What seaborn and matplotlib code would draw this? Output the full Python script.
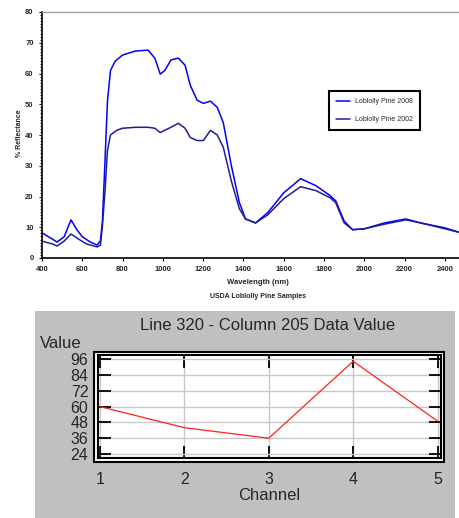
import numpy as np
import pandas as pd
import matplotlib
matplotlib.use('Agg')
import matplotlib.pyplot as plt
import matplotlib.patches as mpatches
from matplotlib.ticker import MultipleLocator
import seaborn as sns

# Spectra (wavelength nm, % reflectance)
wl_a = [400, 450, 475, 510, 544, 570, 600, 640, 674, 690, 700, 713, 725, 740, 763, 800,
        863, 927, 960, 987, 1010, 1040, 1077, 1110, 1136, 1170, 1201, 1236, 1270, 1300,
        1340, 1380, 1410, 1460, 1520, 1600, 1684, 1760, 1830, 1858, 1900, 1942, 2000,
        2100, 2206, 2280, 2400, 2480]
refl_a = [8.2, 6.2, 5.2, 6.9, 12.4, 9.5, 6.9, 5.2, 4.2, 5.6, 12, 32, 51, 61, 64, 66,
          67.3, 67.6, 65, 59.8, 61, 64.4, 65, 62.7, 56.2, 51.3, 50.3, 51, 49, 44,
          30, 18, 12.7, 11.4, 14.7, 21.2, 25.8, 23.5, 20.3, 18.6, 12, 9.2, 9.5,
          11.4, 12.7, 11.4, 9.8, 8.2]

wl_b = [400, 450, 475, 510, 544, 580, 620, 674, 690, 700, 713, 725, 740, 770, 800,
        863, 927, 960, 987, 1040, 1077, 1110, 1136, 1170, 1201, 1236, 1270, 1300,
        1340, 1380, 1410, 1460, 1520, 1600, 1684, 1760, 1830, 1858, 1900, 1942, 2000,
        2100, 2206, 2280, 2400, 2480]
refl_b = [5.5, 4.6, 3.9, 5.5, 7.8, 6.2, 4.6, 3.6, 4.2, 10.5, 22, 35, 40, 41.5, 42.2,
          42.5, 42.5, 42.2, 40.8, 42.5, 43.8, 42.2, 39.2, 38.2, 38.2, 41.5, 40, 36,
          25, 16, 12.7, 11.4, 14, 19.3, 23.2, 21.9, 19.6, 18, 11.4, 9.2, 9.5,
          11, 12.4, 11.4, 9.5, 8.2]

legend_labels = ['Loblolly Pine 2008', 'Loblolly Pine 2002']
wl_ticks = [400, 600, 800, 1000, 1200, 1400, 1600, 1800, 2000, 2200, 2400]
refl_ticks = [0, 10, 20, 30, 40, 50, 60, 70, 80]

# Lower panel: one pixel across five channels
channels = [1, 2, 3, 4, 5]
values = [60, 44, 36, 94.5, 49]
value_ticks = [24, 36, 48, 60, 72, 84, 96]

sns.set_style('white')
plt.rcParams['font.family'] = ['Liberation Sans', 'DejaVu Sans']

W, H = 460, 518
fig = plt.figure(figsize=(W / 100, H / 100), dpi=100)

# ---- top spectral plot ----
ax1 = fig.add_axes([42 / W, 1 - 258 / H, 418 / W, 246 / H])
df = pd.concat([
    pd.DataFrame({'wl': wl_a, 'refl': refl_a, 'sample': legend_labels[0]}),
    pd.DataFrame({'wl': wl_b, 'refl': refl_b, 'sample': legend_labels[1]}),
])
sns.lineplot(data=df, x='wl', y='refl', hue='sample', estimator=None,
             palette=['#0000ff', '#1e1e96'], linewidth=1.1, ax=ax1)
ax1.set_xlim(400, 2475)
ax1.set_ylim(0, 80)
ax1.set_xticks(wl_ticks)
ax1.set_yticks(refl_ticks)
ax1.yaxis.set_minor_locator(MultipleLocator(1))
ax1.tick_params(axis='both', which='major', labelsize=5.5, length=2.5, width=0.8,
                color='black', direction='out', left=True, bottom=True)
ax1.tick_params(axis='y', which='minor', length=1.5, width=0.6, color='black', left=True)
for lab in ax1.get_xticklabels() + ax1.get_yticklabels():
    lab.set_fontweight('bold')
ax1.set_xlabel('')
ax1.set_ylabel('')
for s in ['left', 'bottom']:
    ax1.spines[s].set_color('black')
    ax1.spines[s].set_linewidth(1.2)
ax1.spines['top'].set_color('#a0a0a0')
ax1.spines['top'].set_linewidth(1.0)
ax1.spines['right'].set_visible(False)

leg = ax1.legend(loc='upper left', bbox_to_anchor=(329 / W, 1 - 91 / H),
                 bbox_transform=fig.transFigure, fontsize=5, frameon=True,
                 fancybox=False, framealpha=1, handlelength=2.0,
                 borderpad=1.0, labelspacing=1.6, borderaxespad=0)
leg.get_frame().set_edgecolor('black')
leg.get_frame().set_linewidth(1.5)

fig.text(20 / W, 1 - 133 / H, '% Reflectance', rotation=90, ha='center', va='center',
         fontsize=5, fontweight='bold')
fig.text(258 / W, 1 - 282 / H, 'Wavelength (nm)', ha='center', va='center',
         fontsize=5.5, fontweight='bold')
fig.text(258 / W, 1 - 296 / H, 'USDA Loblolly Pine Samples', ha='center', va='center',
         fontsize=5, fontweight='bold')

# ---- lower panel ----
fig.add_artist(mpatches.Rectangle((35 / W, 0), 420 / W, 207 / H, transform=fig.transFigure,
                                  facecolor='#c0c0c0', edgecolor='none', zorder=0))
fig.add_artist(mpatches.Rectangle((94 / W, 1 - 461.5 / H), 350.5 / W, 110 / H,
                                  transform=fig.transFigure, facecolor='white',
                                  edgecolor='black', linewidth=1.5, zorder=1))

ax2 = fig.add_axes([98 / W, 1 - 458 / H, 343.5 / W, 103.5 / H], zorder=2)
ax2.set_facecolor('white')
sns.lineplot(x=channels, y=values, color='#ff2020', linewidth=0.9, ax=ax2)
ax2.set_xlim(0.976, 5.047)
ax2.set_ylim(20.96, 99.65)
ax2.set_xticks(channels)
ax2.set_yticks(value_ticks)
ax2.grid(True, color='#c8c8c8', linewidth=1.0)
ax2.set_axisbelow(True)
ax2.tick_params(axis='both', direction='in', length=9, width=1.3, color='black',
                top=True, right=True, left=True, bottom=True, labelsize=11.5)
ax2.tick_params(axis='y', pad=7)
ax2.tick_params(axis='x', pad=10)
for s in ax2.spines.values():
    s.set_color('black')
    s.set_linewidth(1.5)

fig.text(268 / W, 1 - 325 / H, 'Line 320 - Column 205 Data Value', ha='center', va='center',
         fontsize=12)
fig.text(40 / W, 1 - 343 / H, 'Value', ha='left', va='center', fontsize=12)
fig.text(269 / W, 1 - 495 / H, 'Channel', ha='center', va='center', fontsize=12)

fig.savefig('out.png', dpi=100, facecolor='white')
